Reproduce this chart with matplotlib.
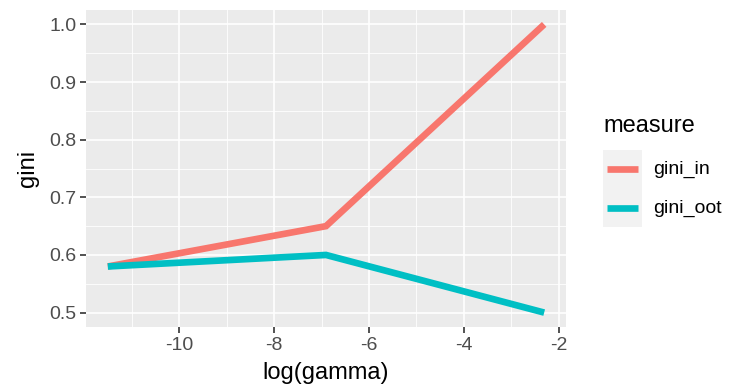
import numpy as np
import matplotlib
matplotlib.use("Agg")
import matplotlib.pyplot as plt
from matplotlib.lines import Line2D
from matplotlib.ticker import MultipleLocator

plt.rcParams["font.family"] = ["Liberation Sans", "DejaVu Sans"]
plt.rcParams["axes.unicode_minus"] = False

# gamma grid and Gini results
log_gamma = [np.log(1e-5), np.log(1e-3), np.log(1e-1)]
gini_in = [0.58, 0.65, 1.00]
gini_oot = [0.58, 0.60, 0.50]
series_names = ["gini_in", "gini_oot"]
series_colors = ["#F8766D", "#00BFC4"]
x_ticks = [-10, -8, -6, -4, -2]
y_ticks = [0.5, 0.6, 0.7, 0.8, 0.9, 1.0]

W, H = 731, 391
fig = plt.figure(figsize=(W / 100, H / 100), dpi=100)
ax = fig.add_axes([86 / W, (H - 327) / H, (566 - 86) / W, (327 - 10) / H])
ax.set_facecolor("#EBEBEB")

lw = 4.8
for name, vals, col in zip(series_names, [gini_in, gini_oot], series_colors):
    ax.plot(log_gamma, vals, color=col, lw=lw, solid_capstyle="butt",
            solid_joinstyle="miter", label=name, zorder=3)

xr = log_gamma[-1] - log_gamma[0]
ax.set_xlim(log_gamma[0] - 0.05 * xr, log_gamma[-1] + 0.05 * xr)
ax.set_ylim(0.475, 1.025)

ax.xaxis.set_minor_locator(MultipleLocator(1))
ax.yaxis.set_minor_locator(MultipleLocator(0.05))
ax.set_xticks(x_ticks)
ax.set_xticklabels([str(t) for t in x_ticks])
ax.set_yticks(y_ticks)
ax.set_yticklabels([f"{v:.1f}" for v in y_ticks])

ax.grid(which="major", color="white", lw=1.2, zorder=1)
ax.grid(which="minor", color="white", lw=0.6, zorder=1)
ax.set_axisbelow(True)
for s in ax.spines.values():
    s.set_visible(False)

ax.tick_params(which="major", length=4, width=1.2, color="#333333",
               labelcolor="#4D4D4D", labelsize=14, pad=3)
ax.tick_params(which="minor", length=0)

ax.set_xlabel("log(gamma)", fontsize=17, color="black", labelpad=6)
ax.set_ylabel("gini", fontsize=17, color="black", labelpad=7)

# legend: title, gray key panel, swatches and labels
fig.text(603 / W, 1 - 126 / H, "measure", fontsize=17, color="black",
         ha="left", va="center")
fig.patches.append(plt.Rectangle((603 / W, 1 - 227 / H), 39 / W, 77 / H,
                                 transform=fig.transFigure, facecolor="#F2F2F2",
                                 edgecolor="none", zorder=0))
for i, (name, col) in enumerate(zip(series_names, series_colors)):
    yk = 1 - (169 + 39 * i) / H
    fig.add_artist(Line2D([607 / W, 638 / W], [yk, yk], color=col, lw=lw,
                          solid_capstyle="butt", transform=fig.transFigure))
    fig.text(653 / W, yk, name, fontsize=14, color="black",
             ha="left", va="center")

fig.savefig("out.png", dpi=100)
